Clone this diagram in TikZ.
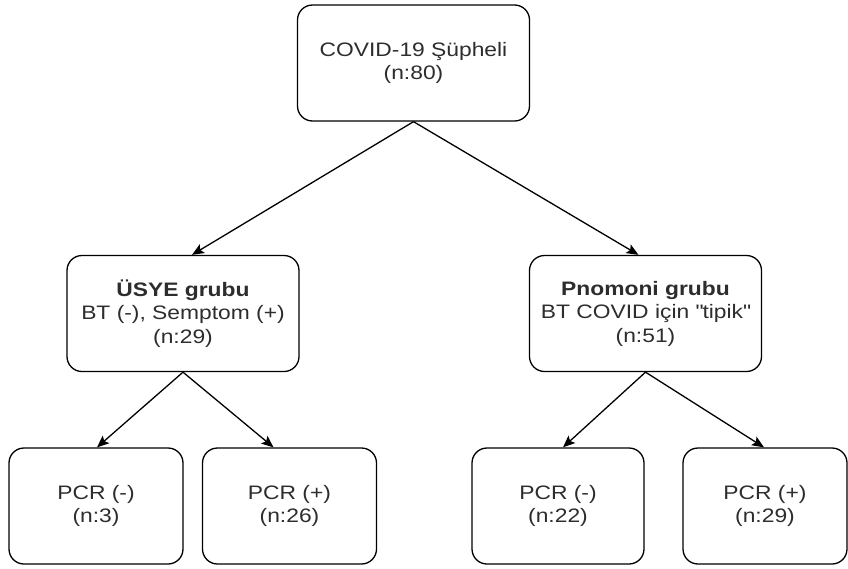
\documentclass[tikz,border=0pt]{standalone}
\usepackage{fontspec}
\setmainfont{Liberation Sans}[FakeStretch=1.17]
\usepackage{tikz}
\usetikzlibrary{arrows.meta}
\definecolor{ink}{RGB}{45,45,45}

\begin{document}
\begin{tikzpicture}[x=1pt, y=-1pt,
  grp/.style={draw, line width=1.3pt, rounded corners=15pt, align=center, text=ink, font=\fontsize{19.5}{23.5}\selectfont, minimum width=232pt, minimum height=116pt, inner sep=0pt, fill=white},
  leaf/.style={grp, minimum width=174pt},
  flow/.style={-{Stealth[length=12pt, width=10pt, inset=2.5pt]}, line width=1.3pt}]
\useasboundingbox (0,0) rectangle (848,568);
\node[grp] (top) at (413.5,63) {COVID-19 Şüpheli\\ (n:80)};
\node[grp] (usye) at (183,313.5) {\textbf{ÜSYE grubu}\\ BT (-), Semptom (+)\\ (n:29)};
\node[grp] (pnom) at (645.5,313.5) {\textbf{Pnomoni grubu}\\ BT COVID için \textquotedbl tipik\textquotedbl\\ (n:51)};
\node[leaf] (usyeneg) at (96,506) {PCR (-)\\ (n:3)};
\node[leaf] (usyepos) at (289.5,506) {PCR (+)\\ (n:26)};
\node[leaf, minimum width=172pt] (pnomneg) at (558,506) {PCR (-)\\ (n:22)};
\node[leaf, minimum width=164pt] (pnompos) at (765,506) {PCR (+)\\ (n:29)};
\draw[flow] (top.south) -- ([xshift=9pt]usye.north);
\draw[flow] (top.south) -- ([xshift=-7pt]pnom.north);
\draw[flow] (usye.south) -- ([xshift=1pt]usyeneg.north);
\draw[flow] (usye.south) -- ([xshift=-16pt]usyepos.north);
\draw[flow] (pnom.south) -- ([xshift=5pt]pnomneg.north);
\draw[flow] (pnom.south) -- ([xshift=-1pt]pnompos.north);
\end{tikzpicture}
\end{document}
